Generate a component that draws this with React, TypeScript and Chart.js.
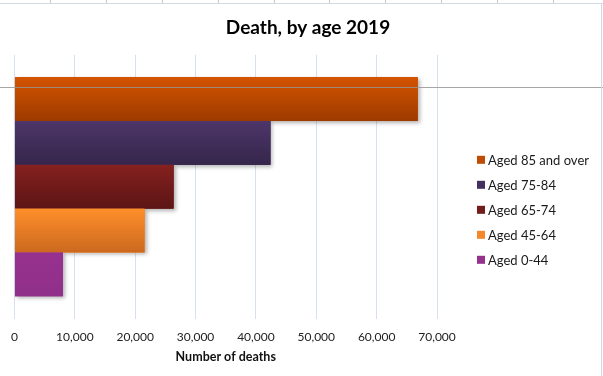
import React, { useEffect, useRef } from 'react';
import { Chart, registerables } from 'chart.js';

Chart.register(...registerables);

// ---- data ----
const categories = ['2019'];
const seriesLabels = ['Aged 85 and over', 'Aged 75-84', 'Aged 65-74', 'Aged 45-64', 'Aged 0-44'];
const deathsAged85Plus = [66800];
const deathsAged75to84 = [42400];
const deathsAged65to74 = [26350];
const deathsAged45to64 = [21550];
const deathsAged0to44 = [8000];
const xTickValues = [0, 10000, 20000, 30000, 40000, 50000, 60000, 70000];

// ---- styles ----
const legendColors = ['#C04C04', '#433060', '#721C1C', '#F4862C', '#95318E'];
const gradTop = ['#D45400', '#4D3668', '#85211F', '#FF8F2A', '#97318F'];
const gradBottom = ['#9E3A00', '#35254B', '#5C1515', '#CC691F', '#90308A'];
const FONT = 'Lato, "Liberation Sans", sans-serif';

const shadowPlugin = {
  id: 'barShadow',
  beforeDatasetsDraw(chart: any) {
    const ctx = chart.ctx;
    chart.data.datasets.forEach((_: any, di: number) => {
      const meta = chart.getDatasetMeta(di);
      meta.data.forEach((el: any) => {
        const { x, y, base, height } = el.getProps(['x', 'y', 'base', 'height'], true);
        ctx.save();
        ctx.shadowColor = 'rgba(0,0,0,0.30)';
        ctx.shadowBlur = 4;
        ctx.shadowOffsetX = 2;
        ctx.shadowOffsetY = 2;
        ctx.fillStyle = legendColors[di];
        ctx.fillRect(base, y - height / 2, x - base, height);
        ctx.restore();
      });
    });
  },
};

const gradientPlugin = {
  id: 'barGradient',
  afterDatasetsDraw(chart: any) {
    const ctx = chart.ctx;
    chart.data.datasets.forEach((_: any, di: number) => {
      const meta = chart.getDatasetMeta(di);
      meta.data.forEach((el: any) => {
        const { x, y, base, height } = el.getProps(['x', 'y', 'base', 'height'], true);
        const top = y - height / 2;
        const g = ctx.createLinearGradient(0, top, 0, top + height);
        g.addColorStop(0, gradTop[di]);
        g.addColorStop(1, gradBottom[di]);
        ctx.save();
        ctx.fillStyle = g;
        ctx.fillRect(base, top, x - base, height);
        ctx.restore();
      });
    });
  },
};

const decorPlugin = {
  id: 'decor',
  afterDraw(chart: any) {
    const ctx = chart.ctx;
    const ca = chart.chartArea;
    // stray horizontal rule seen in the reference
    ctx.save();
    ctx.strokeStyle = 'rgba(150,150,150,0.85)';
    ctx.lineWidth = 1;
    ctx.beginPath();
    ctx.moveTo(0, Math.round(ca.top + 32) + 0.5);
    ctx.lineTo(chart.width, Math.round(ca.top + 32) + 0.5);
    ctx.stroke();
    ctx.restore();

    // legend
    ctx.save();
    ctx.font = `13px ${FONT}`;
    ctx.textBaseline = 'middle';
    ctx.textAlign = 'left';
    const x0 = ca.right + 40;
    chart.data.datasets.forEach((ds: any, i: number) => {
      const yc = ca.top + 105 + i * 25;
      ctx.fillStyle = legendColors[i];
      ctx.fillRect(x0, yc - 4, 8, 8);
      ctx.fillStyle = '#1a1a1a';
      ctx.fillText(ds.label, x0 + 11, yc + 1);
    });
    ctx.restore();
  },
};

export default function App() {
  const canvasRef = useRef<HTMLCanvasElement | null>(null);

  useEffect(() => {
    document.body.style.margin = '0';
    const canvas = canvasRef.current;
    if (!canvas) return;
    const seriesValues = [deathsAged85Plus, deathsAged75to84, deathsAged65to74, deathsAged45to64, deathsAged0to44];
    const chart = new Chart(canvas, {
      type: 'bar',
      data: {
        labels: categories,
        datasets: seriesLabels.map((label, i) => ({
          label,
          data: seriesValues[i],
          backgroundColor: legendColors[i],
          borderWidth: 0,
          categoryPercentage: 0.83,
          barPercentage: 1.0,
        })),
      },
      options: {
        indexAxis: 'y',
        animation: false,
        responsive: false,
        maintainAspectRatio: false,
        layout: { padding: { left: 13, right: 0, top: 0, bottom: 0 } },
        plugins: {
          legend: { display: false },
          tooltip: { enabled: false },
          title: {
            display: true,
            text: 'Death, by age 2019',
            color: '#000',
            font: { family: FONT, size: 19, weight: 'bold' },
            padding: { top: 16, bottom: 16 },
          },
        },
        scales: {
          x: {
            type: 'linear',
            min: 0,
            max: 70000,
            afterBuildTicks: (axis: any) => {
              axis.ticks = xTickValues.map((v) => ({ value: v }));
            },
            ticks: {
              color: '#222',
              padding: 11,
              font: { family: FONT, size: 12 },
            },
            grid: { color: '#D6E0EF', drawTicks: false, lineWidth: 1 },
            border: { display: false },
            title: {
              display: true,
              text: 'Number of deaths',
              color: '#111',
              font: { family: FONT, size: 12.5, weight: 'bold' },
              padding: { top: -6, bottom: 12 },
            },
          },
          y: {
            type: 'category',
            position: 'right',
            display: true,
            ticks: { display: false },
            grid: { display: false, drawTicks: false },
            border: { display: false },
            afterFit: (scale: any) => {
              scale.width = 166;
            },
          },
        },
      },
      plugins: [shadowPlugin, gradientPlugin, decorPlugin],
    } as any);
    return () => chart.destroy();
  }, []);

  return (
    <div style={{ position: 'relative', width: 603, height: 376, overflow: 'hidden', background: '#fff' }}>
      <canvas ref={canvasRef} width={603} height={376} style={{ position: 'absolute', left: 0, top: 0, width: 603, height: 376 }} />
      <div
        style={{
          position: 'absolute', left: 0, top: 0, width: 603, height: 3,
          backgroundImage: 'repeating-linear-gradient(to right, transparent 0px, transparent 50px, #c8c8c8 50px, #c8c8c8 51px, transparent 51px, transparent 55.9px)',
        }}
      />
      <div style={{ position: 'absolute', left: 0, top: 3, width: 603, height: 1, background: '#D3DAE6' }} />
      <div style={{ position: 'absolute', left: 601, top: 3, width: 1, height: 373, background: '#D3DAE6' }} />
    </div>
  );
}
